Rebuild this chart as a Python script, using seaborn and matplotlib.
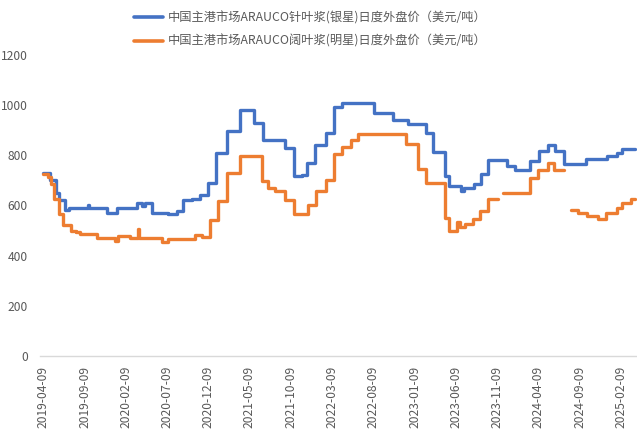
import matplotlib
matplotlib.use("Agg")
import matplotlib.pyplot as plt
from matplotlib.lines import Line2D
import seaborn as sns
import pandas as pd

# ---------------- data ----------------
SERIES_NAMES = [
    "中国主港市场ARAUCO针叶浆(银星)日度外盘价（美元/吨）",
    "中国主港市场ARAUCO阔叶浆(明星)日度外盘价（美元/吨）",
]

blue_dates = [
    "2019-04-09", "2019-05-03", "2019-05-25", "2019-06-06", "2019-06-28", "2019-07-12",
    "2019-09-21", "2019-09-25", "2019-11-30", "2020-01-06", "2020-03-20", "2020-04-07",
    "2020-04-18", "2020-05-14", "2020-07-12", "2020-08-14", "2020-09-05", "2020-10-09",
    "2020-11-07", "2020-12-07", "2021-01-05", "2021-02-15", "2021-04-04", "2021-05-26",
    "2021-06-28", "2021-09-17", "2021-10-20", "2021-11-19", "2021-12-07", "2022-01-06",
    "2022-02-15", "2022-03-17", "2022-04-15", "2022-08-11", "2022-10-21", "2022-12-15",
    "2023-02-20", "2023-03-17", "2023-05-01", "2023-05-15", "2023-06-29", "2023-07-10",
    "2023-08-16", "2023-09-10", "2023-10-06", "2023-12-15", "2024-01-14", "2024-03-09",
    "2024-04-11", "2024-05-15", "2024-06-10", "2024-07-13", "2024-10-02", "2024-12-19",
    "2025-01-25", "2025-02-12",
]
blue_values = [
    728, 700, 648, 620, 580, 590,
    600, 590, 570, 590, 608, 598,
    608, 570, 564, 578, 620, 627,
    640, 688, 810, 898, 980, 927,
    860, 827, 716, 720, 769, 840,
    889, 991, 1009, 967, 940, 924,
    890, 814, 716, 678, 657, 669,
    687, 727, 780, 756, 743, 777,
    817, 840, 818, 767, 783, 796,
    809, 823,
]

orange_dates = [
    "2019-04-09", "2019-04-26", "2019-05-07", "2019-05-18", "2019-06-06", "2019-06-20",
    "2019-07-20", "2019-08-08", "2019-08-22", "2019-10-24", "2019-12-30", "2020-01-10",
    "2020-02-23", "2020-03-24", "2020-03-28", "2020-06-20", "2020-07-12", "2020-10-20",
    "2020-11-15", "2020-12-14", "2021-01-13", "2021-02-15", "2021-04-04", "2021-06-24",
    "2021-07-16", "2021-08-11", "2021-09-17", "2021-10-20", "2021-12-11", "2022-01-09",
    "2022-02-15", "2022-03-17", "2022-04-15", "2022-05-19", "2022-06-14", "2022-12-08",
    "2023-01-21", "2023-02-20", "2023-05-01", "2023-05-15", "2023-06-14", "2023-06-25",
    "2023-07-14", "2023-08-12", "2023-09-07", "2023-10-06", "2023-11-12", "2023-12-01",
    "2024-03-09", "2024-04-08", "2024-05-15", "2024-06-06", "2024-07-13", "2024-08-08",
    "2024-09-03", "2024-10-06", "2024-11-16", "2024-12-15", "2025-01-25", "2025-02-12",
    "2025-03-18",
]
orange_values = [
    727, 713, 687, 627, 567, 520,
    500, 493, 487, 470, 460, 480,
    472, 507, 472, 455, 465, 484,
    473, 542, 618, 729, 797, 697,
    669, 657, 623, 567, 603, 656,
    700, 804, 833, 860, 883, 846,
    747, 689, 549, 500, 535, 513,
    524, 547, 577, 627, None, 648,
    708, 740, 769, 740, None, 580,
    569, 556, 547, 569, 590, 609,
    627,
]
END_DATE = "2025-04-01"

x_tick_labels = [
    "2019-04-09", "2019-09-09", "2020-02-09", "2020-07-09", "2020-12-09",
    "2021-05-09", "2021-10-09", "2022-03-09", "2022-08-09", "2023-01-09",
    "2023-06-09", "2023-11-09", "2024-04-09", "2024-09-09", "2025-02-09",
]
y_ticks = [0, 200, 400, 600, 800, 1000, 1200]

COLORS = ["#4472C4", "#ED7D31"]
TEXT_COLOR = "#595959"
AXIS_COLOR = "#D9D9D9"


def build(name, dates, values):
    rows = []
    seg = 0
    last = None
    for d, v in zip(dates, values):
        if v is None:
            if last is not None:
                rows.append((name, seg, d, last))
            seg += 1
            last = None
        else:
            rows.append((name, seg, d, v))
            last = v
    rows.append((name, seg, END_DATE, last))
    return rows


rows = build(SERIES_NAMES[0], blue_dates, blue_values) + build(SERIES_NAMES[1], orange_dates, orange_values)
df = pd.DataFrame(rows, columns=["series", "seg", "date", "price"])
df["date"] = pd.to_datetime(df["date"])

# ---------------- plot ----------------
sns.set_style("white")
plt.rcParams["font.family"] = ["Noto Sans CJK SC", "DejaVu Sans"]

fig = plt.figure(figsize=(6.37, 4.32), dpi=100)
ax = fig.add_axes([0.063, 0.176, 0.937, 0.697])

sns.lineplot(
    data=df, x="date", y="price", hue="series", units="seg", estimator=None,
    palette=COLORS, hue_order=SERIES_NAMES, drawstyle="steps-post",
    linewidth=2.4, legend=False, ax=ax,
)

ax.set_ylim(0, 1200)
ax.set_yticks(y_ticks)
ax.set_yticklabels([str(v) for v in y_ticks])
ax.set_xlim(pd.Timestamp("2019-03-29"), pd.Timestamp("2025-04-08"))
ax.set_xticks(pd.to_datetime(x_tick_labels))
ax.set_xticklabels(x_tick_labels, rotation=90)

ax.set_xlabel("")
ax.set_ylabel("")
for s in ["left", "right", "top"]:
    ax.spines[s].set_visible(False)
ax.spines["bottom"].set_color(AXIS_COLOR)
ax.spines["bottom"].set_linewidth(1.0)
ax.tick_params(axis="x", colors=TEXT_COLOR, labelsize=8.7, length=5, width=1.0,
               direction="out", pad=2, color=AXIS_COLOR)
ax.tick_params(axis="y", colors=TEXT_COLOR, labelsize=8.7, length=0, pad=9)
ax.grid(False)

handles = [Line2D([0], [0], color=c, lw=2.6) for c in COLORS]
fig.legend(handles, SERIES_NAMES, loc="upper center", bbox_to_anchor=(0.487, 1.0),
           ncol=1, frameon=False, fontsize=8.8, labelcolor=TEXT_COLOR,
           handlelength=2.4, handletextpad=0.4, labelspacing=0.85)

fig.savefig("out.png", dpi=100)
